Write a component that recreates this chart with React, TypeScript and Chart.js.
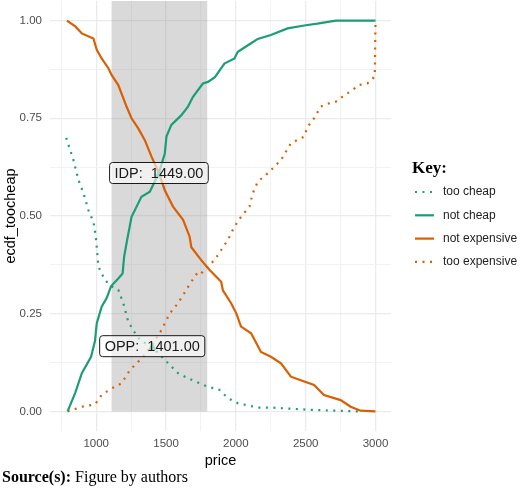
import { useEffect, useRef } from "react";
import { Chart, registerables } from "chart.js";

Chart.register(...registerables);

// ---- data ----
const tooCheapPrice = [785, 813, 837, 873, 909, 944, 980, 996, 1008, 1016, 1063, 1110, 1158, 1194, 1229, 1270, 1312, 1372, 1401, 1491, 1586, 1657, 1788, 1883, 1943, 2014, 2157, 2250, 2536, 2700, 2900];
const tooCheapValue = [0.70, 0.669, 0.643, 0.592, 0.558, 0.515, 0.485, 0.451, 0.403, 0.37, 0.336, 0.32, 0.311, 0.277, 0.23, 0.205, 0.183, 0.17, 0.165, 0.132, 0.098, 0.085, 0.065, 0.055, 0.034, 0.021, 0.01, 0.01, 0.004, 0.002, 0];

const notCheapPrice = [795, 849, 897, 963, 991, 1004, 1039, 1075, 1106, 1158, 1189, 1200, 1222, 1253, 1324, 1384, 1419, 1449, 1491, 1503, 1538, 1610, 1657, 1693, 1764, 1800, 1850, 1918, 1990, 2014, 2109, 2157, 2251, 2370, 2501, 2584, 2715, 3000];
const notCheapValue = [0, 0.047, 0.098, 0.14, 0.18, 0.226, 0.268, 0.29, 0.32, 0.34, 0.353, 0.396, 0.44, 0.498, 0.549, 0.562, 0.588, 0.61, 0.66, 0.703, 0.733, 0.758, 0.78, 0.805, 0.839, 0.843, 0.855, 0.89, 0.903, 0.92, 0.942, 0.953, 0.963, 0.98, 0.988, 0.992, 1.0, 1.0];

const notExpPrice = [790, 850, 897, 980, 1004, 1039, 1087, 1110, 1158, 1217, 1253, 1301, 1348, 1396, 1449, 1491, 1550, 1622, 1669, 1681, 1752, 1812, 1895, 1907, 1966, 2003, 2037, 2109, 2180, 2251, 2323, 2394, 2465, 2560, 2631, 2750, 2822, 2893, 3000];
const notExpValue = [1.0, 0.985, 0.967, 0.954, 0.925, 0.903, 0.878, 0.861, 0.835, 0.78, 0.75, 0.724, 0.694, 0.652, 0.61, 0.566, 0.524, 0.49, 0.447, 0.42, 0.387, 0.362, 0.332, 0.31, 0.277, 0.251, 0.217, 0.2, 0.152, 0.14, 0.123, 0.089, 0.08, 0.068, 0.042, 0.029, 0.012, 0.002, 0];

const tooExpPrice = [795, 897, 991, 1039, 1110, 1182, 1241, 1289, 1336, 1401, 1467, 1527, 1586, 1681, 1729, 1752, 1800, 1847, 1895, 1943, 1990, 2037, 2097, 2121, 2157, 2228, 2323, 2394, 2489, 2513, 2560, 2608, 2667, 2715, 2762, 2834, 2881, 2941, 2976, 2995, 3000];
const tooExpValue = [0, 0.012, 0.018, 0.042, 0.059, 0.072, 0.106, 0.123, 0.14, 0.17, 0.208, 0.251, 0.277, 0.332, 0.357, 0.353, 0.372, 0.387, 0.413, 0.439, 0.473, 0.498, 0.524, 0.558, 0.588, 0.609, 0.643, 0.686, 0.703, 0.728, 0.75, 0.78, 0.788, 0.792, 0.805, 0.822, 0.835, 0.839, 0.848, 0.86, 1.0];

const seriesLabels = ["too cheap", "not cheap", "not expensive", "too expensive"];

// acceptable price range (shaded band)
const rangeLow = 1110;
const rangeHigh = 1795;

// intersection points
const pointNames = ["IDP", "OPP"];
const pointPrice = [1449, 1401];
const pointValue = [0.61, 0.167];

const xTicks = [750, 1000, 1250, 1500, 1750, 2000, 2250, 2500, 2750, 3000];
const xMajor = [1000, 1500, 2000, 2500, 3000];
const yTicks = [0, 0.125, 0.25, 0.375, 0.5, 0.625, 0.75, 0.875, 1];
const yMajor = [0, 0.25, 0.5, 0.75, 1];

const GREEN = "#1B9E77";
const ORANGE = "#D95F02";
const SANS = "'Liberation Sans', Arial, sans-serif";
const SERIF = "'Liberation Serif', 'Times New Roman', serif";

const toPts = (xs: number[], ys: number[]) => xs.map((x, i) => ({ x, y: ys[i] }));
const isIn = (arr: number[], v: number) => arr.some((a) => Math.abs(a - v) < 1e-9);

const bandPlugin = {
  id: "band",
  beforeDatasetsDraw(chart: any) {
    const { ctx, chartArea, scales } = chart;
    const x1 = scales.x.getPixelForValue(rangeLow);
    const x2 = scales.x.getPixelForValue(rangeHigh);
    const y0 = scales.y.getPixelForValue(0);
    ctx.save();
    ctx.fillStyle = "rgba(128,128,128,0.30)";
    ctx.fillRect(x1, chartArea.top, x2 - x1, y0 - chartArea.top);
    ctx.restore();
  },
};

const labelPlugin = {
  id: "pointLabels",
  afterDatasetsDraw(chart: any) {
    const { ctx, scales } = chart;
    ctx.save();
    pointNames.forEach((name, i) => {
      const px = scales.x.getPixelForValue(pointPrice[i]);
      const py = scales.y.getPixelForValue(pointValue[i]);
      // marker
      ctx.fillStyle = GREEN;
      ctx.beginPath();
      ctx.moveTo(px - 4, py + 4);
      ctx.lineTo(px + 4, py + 4);
      ctx.lineTo(px, py - 4);
      ctx.closePath();
      ctx.fill();
      // label box
      const text = `${name}:  ${pointPrice[i].toFixed(2)}`;
      ctx.font = `14.5px ${SANS}`;
      const w = ctx.measureText(text).width + 10;
      const h = 21;
      const bx = px - w / 2;
      const by = py - h / 2;
      ctx.beginPath();
      ctx.roundRect(bx, by, w, h, 3);
      ctx.fillStyle = "rgba(255,255,255,0.6)";
      ctx.fill();
      ctx.lineWidth = 1;
      ctx.strokeStyle = "#1a1a1a";
      ctx.stroke();
      ctx.fillStyle = "#1a1a1a";
      ctx.textAlign = "center";
      ctx.textBaseline = "middle";
      ctx.fillText(text, px, py + 1);
    });
    ctx.restore();
  },
};

const keyPlugin = {
  id: "keyLegend",
  afterDraw(chart: any) {
    const { ctx } = chart;
    ctx.save();
    ctx.fillStyle = "#000";
    ctx.font = `bold 17px ${SERIF}`;
    ctx.textAlign = "left";
    ctx.textBaseline = "alphabetic";
    ctx.fillText("Key:", 412, 173);
    chart.data.datasets.forEach((ds: any, i: number) => {
      const y = 192 + i * 23.3;
      ctx.beginPath();
      ctx.strokeStyle = ds.borderColor;
      ctx.lineWidth = ds.borderWidth;
      ctx.setLineDash(ds.borderDash || []);
      ctx.moveTo(415, y);
      ctx.lineTo(434, y);
      ctx.stroke();
      ctx.setLineDash([]);
      ctx.fillStyle = "#222";
      ctx.font = `12px ${SANS}`;
      ctx.textBaseline = "middle";
      ctx.fillText(ds.label, 443, y);
    });
    ctx.restore();
  },
};

export default function App() {
  const ref = useRef<HTMLCanvasElement>(null);
  useEffect(() => {
    const dotted = [2, 5.5];
    const chart = new Chart(ref.current!, {
      type: "line",
      data: {
        datasets: [
          { label: seriesLabels[0], data: toPts(tooCheapPrice, tooCheapValue), borderColor: GREEN, borderWidth: 2.2, borderDash: dotted },
          { label: seriesLabels[1], data: toPts(notCheapPrice, notCheapValue), borderColor: GREEN, borderWidth: 2.2 },
          { label: seriesLabels[2], data: toPts(notExpPrice, notExpValue), borderColor: ORANGE, borderWidth: 2.2 },
          { label: seriesLabels[3], data: toPts(tooExpPrice, tooExpValue), borderColor: ORANGE, borderWidth: 2.2, borderDash: dotted },
        ] as any,
      },
      options: {
        responsive: false,
        animation: false,
        events: [],
        elements: { point: { radius: 0 }, line: { tension: 0 } },
        layout: { padding: { left: 0, right: 129, top: 1, bottom: 19 } },
        plugins: { legend: { display: false }, tooltip: { enabled: false } },
        scales: {
          x: {
            type: "linear",
            min: 669,
            max: 3111,
            afterBuildTicks: (s: any) => { s.ticks = xTicks.map((v) => ({ value: v })); },
            afterFit: (s: any) => { s.height = 39; s.paddingLeft = 0; s.paddingRight = 0; },
            ticks: {
              autoSkip: false,
              maxRotation: 0,
              padding: 6,
              color: "#4d4d4d",
              font: { family: SANS, size: 11.5 },
              callback: (v: any) => (isIn(xMajor, Number(v)) ? String(v) : ""),
            },
            grid: {
              drawTicks: false,
              color: (c: any) => (isIn(xMajor, c.tick?.value) ? "#ebebeb" : "#f2f2f2"),
              lineWidth: (c: any) => (isIn(xMajor, c.tick?.value) ? 1.3 : 1),
            },
            border: { display: false },
            title: { display: true, text: "price", color: "#000", font: { family: SANS, size: 14.5 }, padding: 0 },
          },
          y: {
            type: "linear",
            min: -0.05,
            max: 1.05,
            afterBuildTicks: (s: any) => { s.ticks = yTicks.map((v) => ({ value: v })); },
            afterFit: (s: any) => { s.width = 50; s.paddingTop = 0; s.paddingBottom = 0; },
            ticks: {
              autoSkip: false,
              padding: 8,
              color: "#4d4d4d",
              font: { family: SANS, size: 11.5 },
              callback: (v: any) => (isIn(yMajor, Number(v)) ? Number(v).toFixed(2) : ""),
            },
            grid: {
              drawTicks: false,
              color: (c: any) => (isIn(yMajor, c.tick?.value) ? "#ebebeb" : "#f2f2f2"),
              lineWidth: (c: any) => (isIn(yMajor, c.tick?.value) ? 1.3 : 1),
            },
            border: { display: false },
            title: { display: true, text: "ecdf_toocheap", color: "#000", font: { family: SANS, size: 14.5 }, padding: { top: 2, bottom: 0 } },
          },
        },
      } as any,
      plugins: [bandPlugin, labelPlugin, keyPlugin],
    });
    return () => chart.destroy();
  }, []);

  return (
    <div style={{ position: "absolute", left: 0, top: 0, width: 520, height: 489, background: "#fff" }}>
      <canvas ref={ref} width={520} height={489} style={{ display: "block", width: 520, height: 489 }} />
      <div
        style={{
          position: "absolute",
          left: 2,
          top: 468,
          fontFamily: SERIF,
          fontSize: 16,
          lineHeight: "18px",
          color: "#000",
          whiteSpace: "nowrap",
        }}
      >
        <b>Source(s):</b> Figure by authors
      </div>
    </div>
  );
}
